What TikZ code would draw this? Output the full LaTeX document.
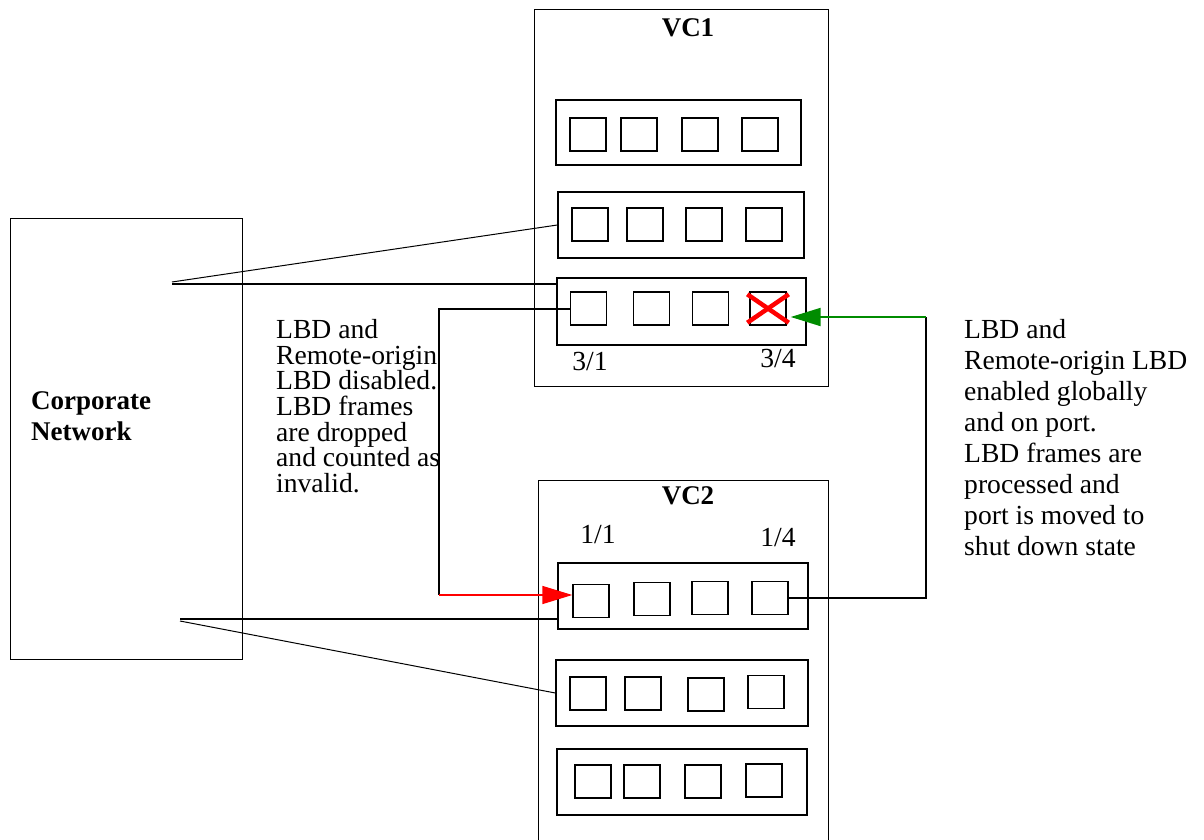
\documentclass[tikz,border=0pt]{standalone}
\usepackage{fontspec}
\setmainfont{Liberation Serif}
\usetikzlibrary{arrows.meta}
\begin{document}
\begin{tikzpicture}[x=1pt,y=-1pt,
  vcbox/.style={draw,line width=1pt,inner sep=0pt},
  card/.style={draw,line width=1.4pt,inner sep=0pt,minimum width=247pt,minimum height=66pt},
  port/.style={draw,line width=1.4pt,inner sep=0pt,minimum width=36pt,minimum height=33pt},
  txt/.style={font=\fontsize{27.6}{28.5}\selectfont,inner sep=0pt},
  ltxtstyle/.style={font=\fontsize{27.6}{25.7}\selectfont,inner sep=0pt},
  rtxtstyle/.style={font=\fontsize{27.6}{31}\selectfont,inner sep=0pt},
  btxt/.style={font=\fontsize{27}{31}\selectfont\bfseries,inner sep=0pt},
  thin/.style={line width=1pt},
  thick/.style={line width=2pt},
]
\useasboundingbox (0,0) rectangle (1204,840);
% Corporate network
\node[vcbox,minimum width=232pt,minimum height=441pt] (corp) at (126,438.5) {};
\node[btxt,align=left,anchor=west] (corplbl) at (31,416) {Corporate\\Network};
% VC1
\node[vcbox,minimum width=294pt,minimum height=376pt] (vc1) at (681,198) {};
\node[btxt] (vc1lbl) at (688,28) {VC1};
\node[card,minimum width=245pt,minimum height=65pt] (card1) at (678.5,132.5) {};
\node[port] (p11) at (588,134.5) {};
\node[port] (p12) at (639,134.5) {};
\node[port] (p13) at (700,134.5) {};
\node[port] (p14) at (760,134.5) {};
\node[card,minimum width=246pt] (card2) at (681,225) {};
\node[port] (p21) at (590,224.5) {};
\node[port] (p22) at (645,224.5) {};
\node[port] (p23) at (704,224.5) {};
\node[port] (p24) at (764,224.5) {};
\node[card,minimum width=249pt,minimum height=67pt] (card3) at (681.5,311.5) {};
\node[port] (p31) at (588.5,308.5) {};
\node[port] (p32) at (651.5,308.5) {};
\node[port] (p33) at (710.5,308.5) {};
\node[port] (p34) at (768,308.5) {};
\node[txt] (l31) at (590,361) {3/1};
\node[txt] (l34) at (778,358) {3/4};
% VC2
\node[vcbox,minimum width=290pt,minimum height=366pt,anchor=north] (vc2) at (683,480) {};
\node[btxt] (vc2lbl) at (688,496) {VC2};
\node[txt] (l11) at (598,535) {1/1};
\node[txt] (l14) at (778,538) {1/4};
\node[card,minimum width=250pt] (card4) at (683,596) {};
\node[port] (p41) at (591,601) {};
\node[port] (p42) at (652,599) {};
\node[port] (p43) at (710,598) {};
\node[port] (p44) at (770,598) {};
\node[card,minimum width=252pt] (card5) at (682,693) {};
\node[port] (p51) at (588,693.5) {};
\node[port] (p52) at (643,693.5) {};
\node[port] (p53) at (706,694.5) {};
\node[port] (p54) at (766,692) {};
\node[card,minimum width=250pt] (card6) at (682,782) {};
\node[port] (p61) at (593,781.5) {};
\node[port] (p62) at (642,781.5) {};
\node[port] (p63) at (703,781.5) {};
\node[port] (p64) at (764,780.5) {};
% Texts
\node[ltxtstyle,align=left,anchor=north west] (ltxt) at (276,319) {LBD and\\Remote-origin\\LBD disabled.\\LBD frames\\are dropped\\and counted as\\invalid.};
\node[rtxtstyle,align=left,anchor=north west] (rtxt) at (964,319) {LBD and\\Remote-origin LBD\\enabled globally\\and on port.\\LBD frames are\\processed and\\port is moved to\\shut down state};
% Connectors from corporate network
\coordinate (c1) at (172,282);
\coordinate (c2) at (172,284);
\coordinate (c3) at (180,619);
\coordinate (c4) at (180,621);
\draw[thin] (c1) -- (card2.west);
\draw[thick] (c2) -- (c2 -| card3.west);
\draw[thick] (c3) -- (c3 -| card4.west);
\draw[thin] (c4) -- (card5.west);
% Loop: 3/1 to 1/1
\coordinate (j1) at (439,595);
\draw[thick] (p31.west) -| (j1);
\draw[red,line width=1.5pt,-{Triangle[length=30pt,width=18pt]}] (j1) -- (j1 -| p41.west);
% Loop: 1/4 to 3/4
\coordinate (j2) at (926,317);
\draw[thick] (p44.east) -| (j2);
\draw[green!55!black,line width=2pt,-{Triangle[length=30pt,width=18pt]}] (j2) -- ([xshift=4pt]j2 -| p34.east);
% Shut-down mark on 3/4
\draw[red,line width=4.5pt] ([shift={(-2pt,-3pt)}]p34.north west) -- ([shift={(2pt,3pt)}]p34.south east);
\draw[red,line width=4.5pt] ([shift={(2pt,-3pt)}]p34.north east) -- ([shift={(-2pt,3pt)}]p34.south west);
\end{tikzpicture}
\end{document}
